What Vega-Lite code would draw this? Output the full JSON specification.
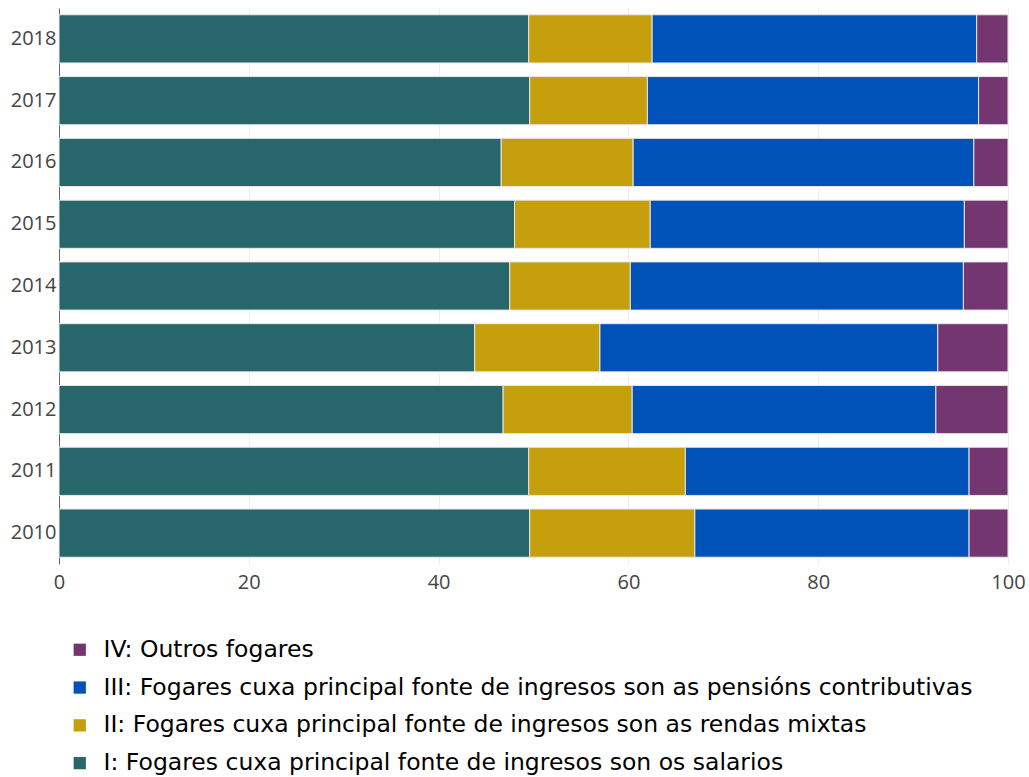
{
  "$schema": "https://vega.github.io/schema/vega-lite/v6.json",
  "autosize": "none",
  "padding": {"left": 59, "top": 8, "right": 21, "bottom": 213},
  "width": 949,
  "height": 556,
  "background": "white",
  "data": {
    "values": [
      {"year": "2018", "k": 1, "grupo": "I: Fogares cuxa principal fonte de ingresos son os salarios", "v": 49.5},
      {"year": "2018", "k": 2, "grupo": "II: Fogares cuxa principal fonte de ingresos son as rendas mixtas", "v": 13.0},
      {"year": "2018", "k": 3, "grupo": "III: Fogares cuxa principal fonte de ingresos son as pensións contributivas", "v": 34.2},
      {"year": "2018", "k": 4, "grupo": "IV: Outros fogares", "v": 3.3},
      {"year": "2017", "k": 1, "grupo": "I: Fogares cuxa principal fonte de ingresos son os salarios", "v": 49.6},
      {"year": "2017", "k": 2, "grupo": "II: Fogares cuxa principal fonte de ingresos son as rendas mixtas", "v": 12.4},
      {"year": "2017", "k": 3, "grupo": "III: Fogares cuxa principal fonte de ingresos son as pensións contributivas", "v": 34.9},
      {"year": "2017", "k": 4, "grupo": "IV: Outros fogares", "v": 3.1},
      {"year": "2016", "k": 1, "grupo": "I: Fogares cuxa principal fonte de ingresos son os salarios", "v": 46.6},
      {"year": "2016", "k": 2, "grupo": "II: Fogares cuxa principal fonte de ingresos son as rendas mixtas", "v": 13.9},
      {"year": "2016", "k": 3, "grupo": "III: Fogares cuxa principal fonte de ingresos son as pensións contributivas", "v": 35.9},
      {"year": "2016", "k": 4, "grupo": "IV: Outros fogares", "v": 3.6},
      {"year": "2015", "k": 1, "grupo": "I: Fogares cuxa principal fonte de ingresos son os salarios", "v": 48.0},
      {"year": "2015", "k": 2, "grupo": "II: Fogares cuxa principal fonte de ingresos son as rendas mixtas", "v": 14.3},
      {"year": "2015", "k": 3, "grupo": "III: Fogares cuxa principal fonte de ingresos son as pensións contributivas", "v": 33.1},
      {"year": "2015", "k": 4, "grupo": "IV: Outros fogares", "v": 4.6},
      {"year": "2014", "k": 1, "grupo": "I: Fogares cuxa principal fonte de ingresos son os salarios", "v": 47.5},
      {"year": "2014", "k": 2, "grupo": "II: Fogares cuxa principal fonte de ingresos son as rendas mixtas", "v": 12.7},
      {"year": "2014", "k": 3, "grupo": "III: Fogares cuxa principal fonte de ingresos son as pensións contributivas", "v": 35.1},
      {"year": "2014", "k": 4, "grupo": "IV: Outros fogares", "v": 4.7},
      {"year": "2013", "k": 1, "grupo": "I: Fogares cuxa principal fonte de ingresos son os salarios", "v": 43.8},
      {"year": "2013", "k": 2, "grupo": "II: Fogares cuxa principal fonte de ingresos son as rendas mixtas", "v": 13.2},
      {"year": "2013", "k": 3, "grupo": "III: Fogares cuxa principal fonte de ingresos son as pensións contributivas", "v": 35.6},
      {"year": "2013", "k": 4, "grupo": "IV: Outros fogares", "v": 7.4},
      {"year": "2012", "k": 1, "grupo": "I: Fogares cuxa principal fonte de ingresos son os salarios", "v": 46.8},
      {"year": "2012", "k": 2, "grupo": "II: Fogares cuxa principal fonte de ingresos son as rendas mixtas", "v": 13.6},
      {"year": "2012", "k": 3, "grupo": "III: Fogares cuxa principal fonte de ingresos son as pensións contributivas", "v": 32.0},
      {"year": "2012", "k": 4, "grupo": "IV: Outros fogares", "v": 7.6},
      {"year": "2011", "k": 1, "grupo": "I: Fogares cuxa principal fonte de ingresos son os salarios", "v": 49.5},
      {"year": "2011", "k": 2, "grupo": "II: Fogares cuxa principal fonte de ingresos son as rendas mixtas", "v": 16.5},
      {"year": "2011", "k": 3, "grupo": "III: Fogares cuxa principal fonte de ingresos son as pensións contributivas", "v": 29.9},
      {"year": "2011", "k": 4, "grupo": "IV: Outros fogares", "v": 4.1},
      {"year": "2010", "k": 1, "grupo": "I: Fogares cuxa principal fonte de ingresos son os salarios", "v": 49.6},
      {"year": "2010", "k": 2, "grupo": "II: Fogares cuxa principal fonte de ingresos son as rendas mixtas", "v": 17.4},
      {"year": "2010", "k": 3, "grupo": "III: Fogares cuxa principal fonte de ingresos son as pensións contributivas", "v": 28.9},
      {"year": "2010", "k": 4, "grupo": "IV: Outros fogares", "v": 4.1}
    ]
  },
  "mark": {"type": "bar", "stroke": "#e8e8e8", "strokeWidth": 1},
  "encoding": {
    "y": {
      "field": "year", "type": "nominal", "sort": "descending",
      "scale": {"paddingInner": 0.22, "paddingOuter": 0.11},
      "axis": {
        "title": null, "ticks": false, "domain": true, "domainColor": "#666", "domainWidth": 1,
        "labelFont": "Open Sans", "labelFontSize": 20, "labelColor": "#444", "labelPadding": 3, "grid": false
      }
    },
    "x": {
      "field": "v", "type": "quantitative", "stack": "zero",
      "scale": {"domain": [0, 100], "nice": false, "zero": true},
      "axis": {
        "title": null, "values": [0, 20, 40, 60, 80, 100], "domain": false, "ticks": false,
        "grid": true, "gridColor": "#eeeeee", "gridWidth": 1,
        "labelFont": "Open Sans", "labelFontSize": 20, "labelColor": "#444", "labelPadding": 8,
        "labelFlush": false
      }
    },
    "order": {"field": "k", "type": "quantitative", "sort": "ascending"},
    "color": {
      "field": "grupo", "type": "nominal",
      "scale": {
        "domain": [
          "IV: Outros fogares",
          "III: Fogares cuxa principal fonte de ingresos son as pensións contributivas",
          "II: Fogares cuxa principal fonte de ingresos son as rendas mixtas",
          "I: Fogares cuxa principal fonte de ingresos son os salarios"
        ],
        "range": ["#733670", "#0052B8", "#C59F0C", "#27676B"]
      },
      "legend": {
        "title": null, "orient": "none", "legendX": 9, "legendY": 630,
        "symbolType": "square", "symbolSize": 150, "symbolStrokeWidth": 0,
        "labelFont": "DejaVu Sans", "labelFontSize": 23.5, "labelColor": "#000",
        "labelOffset": 12, "rowPadding": 12.8, "labelLimit": 1000, "padding": 0, "offset": 0
      }
    }
  },
  "config": {"view": {"stroke": null}}
}
